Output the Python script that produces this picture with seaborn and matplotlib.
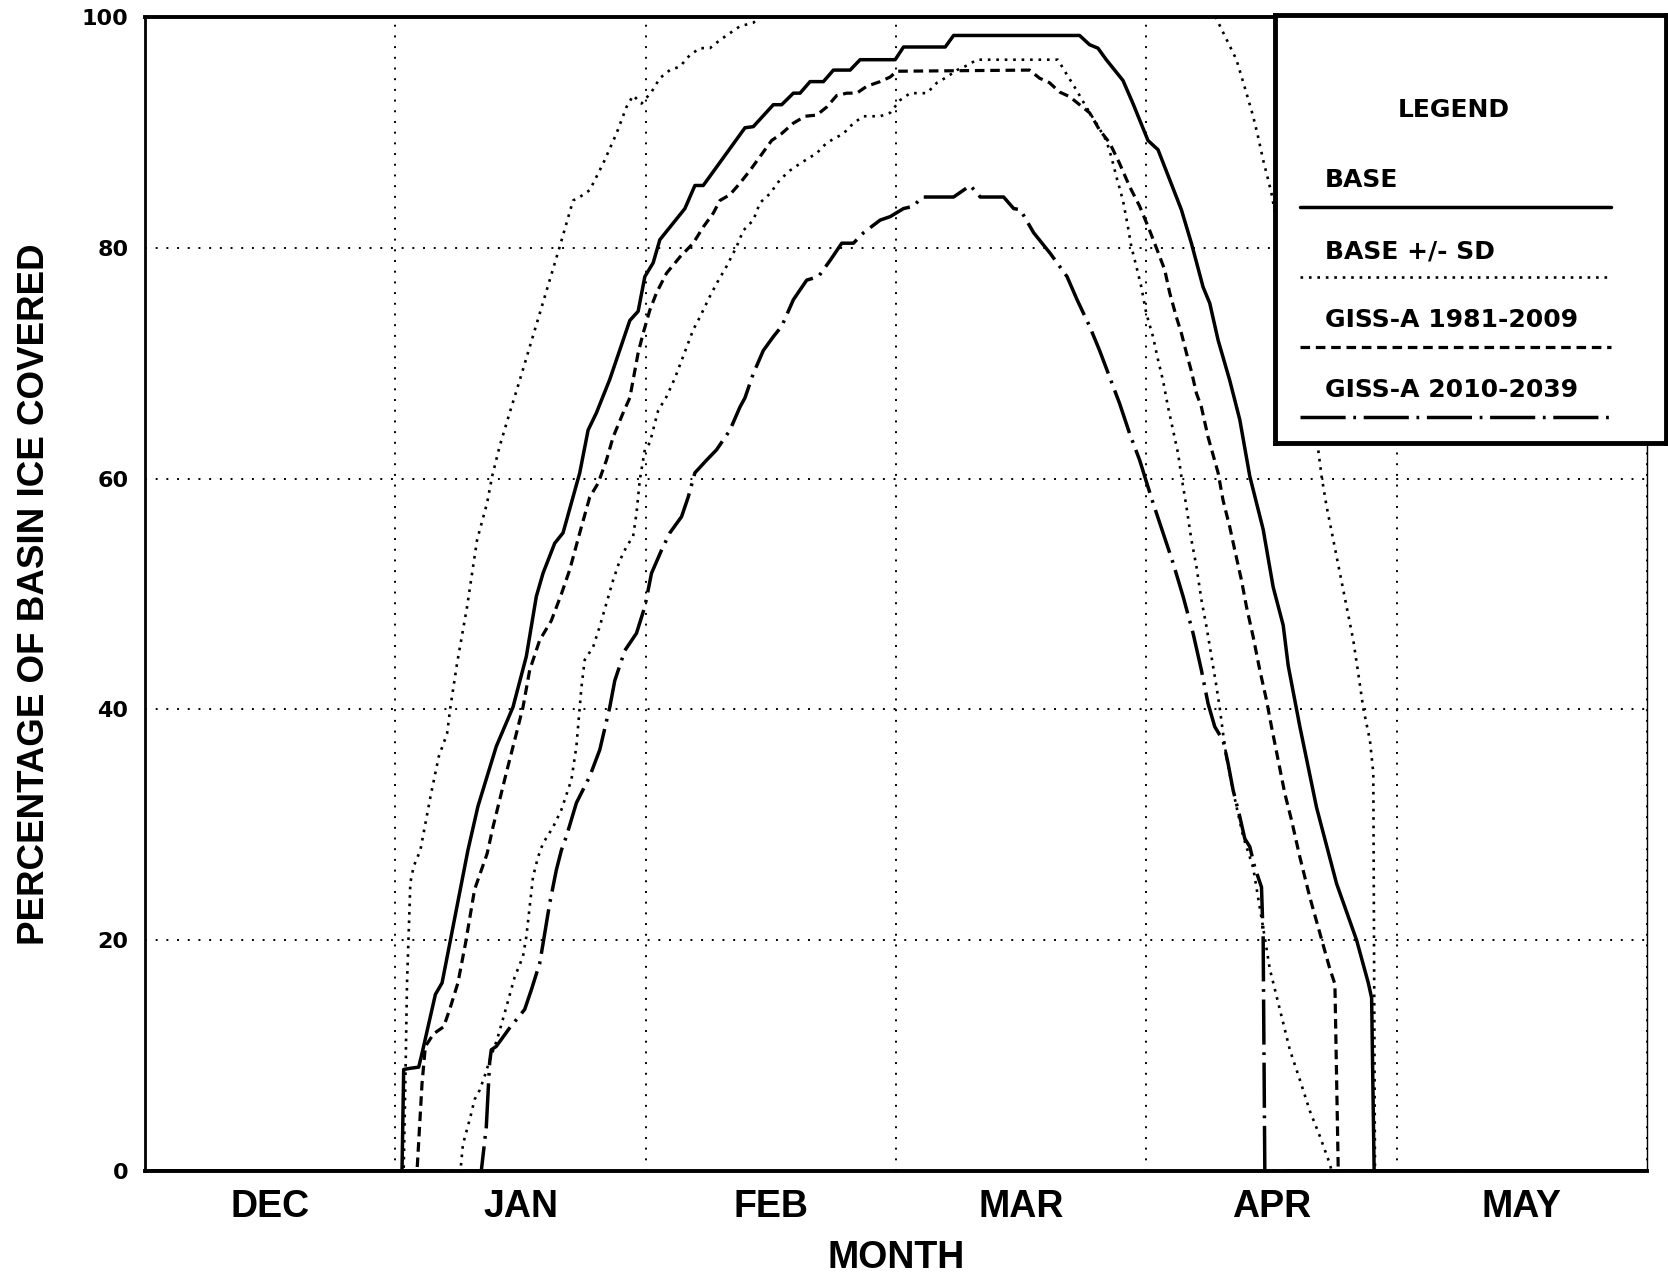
import matplotlib
matplotlib.use('Agg')
import matplotlib.pyplot as plt
import seaborn as sns

# ===============================
# Data: x = days from 1 Dec (axis uses 30 days per month)
# ===============================
months = ['DEC', 'JAN', 'FEB', 'MAR', 'APR', 'MAY']
month_edges = [0, 30, 60, 90, 120, 150, 180]
month_mids = [15, 45, 75, 105, 135, 165]
y_ticks = [0, 20, 40, 60, 80, 100]

base_day = [0, 30.8, 31.0, 31.8, 32.8, 33.2, 34.8, 35.6, 36.6, 38.7, 39.9, 42.1, 44.1, 45.7, 46.9,
            47.7, 49.1, 50.1, 52.1, 53.1, 54.1, 55.7, 58.1, 59.1, 59.9, 60.9, 61.7, 64.7, 65.9, 66.9,
            71.9, 72.9, 75.3, 76.3, 77.7, 78.5, 79.7, 81.3, 82.5, 84.5, 85.7, 89.9, 90.9, 95.9, 96.9,
            112.0, 113.2, 114.2, 115.2, 117.2, 118.4, 120.2, 121.4, 122.8, 124.2, 125.4, 126.8, 127.6,
            128.6, 130.0, 131.2, 132.4, 134.0, 135.2, 136.4, 137.0, 138.4, 140.4, 142.8, 145.2, 146.6,
            147.0, 147.3, 180]
base_pct = [0, 0, 8.8, 8.9, 9.0, 10.2, 15.3, 16.3, 20.0, 27.8, 31.6, 36.8, 40.2, 44.6, 49.8,
            51.8, 54.4, 55.3, 60.5, 64.2, 65.7, 68.6, 73.7, 74.5, 77.5, 78.7, 80.7, 83.4, 85.4, 85.4,
            90.4, 90.5, 92.4, 92.4, 93.4, 93.4, 94.4, 94.4, 95.4, 95.4, 96.3, 96.3, 97.4, 97.4, 98.4,
            98.4, 97.6, 97.3, 96.3, 94.5, 92.5, 89.3, 88.5, 85.9, 83.3, 80.4, 76.6, 75.2,
            72.0, 68.5, 65.1, 60.2, 55.6, 50.6, 47.3, 43.8, 38.5, 31.5, 24.9, 20.0, 16.3,
            15.0, 0, 0]

sd_up_day = [0, 31.0, 31.2, 31.4, 31.6, 31.8, 32.2, 33.0, 34.2, 35.2,
             36.2, 36.6, 37.4, 38.6, 39.8, 41.0, 41.6, 42.5, 43.7, 44.9,
             49.7, 51.3, 52.1, 53.3, 54.9, 56.5, 57.7, 58.5, 59.5, 60.7,
             61.7, 62.9, 64.1, 65.3, 66.5, 67.7, 68.9, 70.1, 71.3, 72.9,
             73.7, 128.3, 130.8, 132.0, 132.8, 133.4, 134.0, 134.6, 135.0, 140.6,
             141.0, 141.6, 142.4, 143.2, 144.0, 144.8, 145.4, 146.0, 146.8, 147.2,
             147.4, 180]
sd_up_pct = [0, 0, 7.6, 16.3, 20.6, 25.0, 26.4, 27.8, 32.4, 35.9,
             37.9, 40.2, 44.0, 48.9, 54.7, 57.9, 60.2, 62.8, 65.7, 68.5,
             80.1, 84.1, 84.4, 85.0, 87.3, 89.9, 92.2, 93.2, 92.5, 93.5,
             94.7, 95.4, 95.7, 96.7, 97.3, 97.3, 98.0, 98.6, 99.2, 99.5,
             100, 100, 96.3, 93.4, 91.4, 89.6, 87.6, 85.9, 84.7, 62.5,
             60.2, 57.6, 54.7, 51.8, 48.9, 46.0, 43.1, 40.1, 37.3, 34.5,
             0, 0]

sd_lo_day = [0, 37.8, 38.1, 39.0, 39.5, 40.1, 40.7, 41.3, 42.2, 43.3,
             44.3, 45.3, 45.7, 46.1, 46.5, 47.1, 47.7, 48.9, 49.9, 51.1,
             51.7, 52.1, 52.3, 52.7, 53.7, 54.5, 55.3, 56.1, 56.9, 57.7,
             58.5, 58.9, 59.3, 59.9, 60.5, 61.1, 61.5, 62.5, 63.5, 64.5,
             65.7, 66.5, 67.7, 68.5, 69.7, 70.9, 71.7, 72.9, 73.7, 74.9,
             76.1, 77.3, 78.5, 80.5, 81.7, 83.7, 84.9, 86.1, 88.1, 89.3,
             90.5, 91.7, 93.7, 94.9, 96.1, 97.3, 98.5, 99.7, 109.4, 110.4,
             111.6, 112.8, 114.0, 115.2, 115.8, 116.4, 117.2, 117.8, 118.2, 118.8,
             119.4, 120.0, 120.8, 121.4, 122.0, 122.6, 123.2, 123.8, 124.2, 124.8,
             125.4, 126.0, 126.6, 127.2, 127.8, 128.4, 128.8, 129.2, 129.6, 130.2,
             130.8, 131.6, 132.8, 133.6, 134.2, 134.8, 136.0, 137.2, 138.4, 139.6,
             140.8, 142.0, 142.2, 180]
sd_lo_pct = [0, 0, 2.3, 4.7, 6.2, 7.0, 8.2, 9.6, 11.4, 14.2,
             16.8, 18.6, 20.3, 22.9, 25.5, 27.2, 28.4, 29.8, 31.3, 33.9,
             36.8, 40.2, 41.9, 44.3, 45.4, 47.2, 49.2, 51.2, 52.9, 54.1,
             55.0, 57.0, 59.9, 62.5, 63.1, 64.8, 65.9, 67.1, 68.7, 70.6,
             72.9, 74.0, 75.8, 76.9, 78.4, 80.1, 81.5, 82.4, 83.9, 84.7,
             85.9, 86.7, 87.3, 88.2, 89.1, 89.9, 90.8, 91.4, 91.4, 91.7,
             92.8, 93.4, 93.4, 94.3, 94.8, 95.4, 95.8, 96.3, 96.3, 95.1,
             93.7, 92.2, 90.8, 89.3, 87.9, 86.2, 84.1, 81.8, 80.1, 78.4,
             76.6, 74.3, 72.3, 70.3, 68.5, 66.2, 64.2, 62.2, 60.2, 57.6,
             54.7, 52.4, 49.5, 47.2, 44.6, 42.0, 40.1, 37.9, 35.9, 33.6,
             31.6, 29.0, 26.3, 22.8, 20.2, 17.5, 14.0, 10.5, 7.9, 5.2,
             3.0, 0.6, 0, 0]

giss1_day = [0, 32.6, 33.2, 33.6, 34.6, 35.8, 36.6, 37.5, 38.4, 39.5,
             41.0, 41.7, 43.3, 44.5, 45.3, 46.1, 47.3, 48.7, 49.9, 50.9,
             52.1, 53.3, 54.3, 55.3, 56.1, 57.3, 58.1, 59.1, 59.7, 60.5,
             61.3, 62.5, 64.1, 65.7, 66.9, 68.1, 68.9, 70.1, 71.3, 72.5,
             73.7, 75.1, 76.3, 77.7, 79.1, 80.5, 81.7, 82.9, 84.1, 85.3,
             86.5, 88.1, 89.3, 90.1, 106.0, 107.2, 108.4, 109.6, 110.8, 112.0,
             113.2, 114.4, 115.6, 116.8, 118.0, 119.2, 120.4, 121.2, 122.2, 122.8,
             123.6, 124.2, 124.8, 125.4, 126.0, 126.6, 127.4, 128.6, 129.2, 130.0,
             130.6, 131.4, 132.0, 132.8, 133.6, 134.4, 135.0, 135.8, 136.6, 137.4,
             138.4, 139.6, 140.8, 142.0, 142.6, 143.0, 180]
giss1_pct = [0, 0, 7.6, 10.8, 11.9, 12.5, 14.2, 16.3, 19.7, 24.4,
             27.5, 29.8, 34.5, 37.9, 40.2, 43.4, 46.0, 47.7, 50.0, 52.1,
             55.3, 58.4, 59.6, 61.6, 63.6, 65.7, 67.0, 70.9, 72.6, 74.6,
             76.1, 77.8, 79.2, 80.4, 81.8, 83.0, 84.1, 84.6, 85.6, 86.7,
             87.9, 89.3, 89.9, 90.8, 91.4, 91.5, 92.2, 93.2, 93.4, 93.4,
             94.0, 94.4, 94.8, 95.3, 95.4, 94.7, 94.3, 93.5, 93.1, 92.4,
             91.7, 90.2, 89.1, 87.3, 85.3, 83.6, 81.5, 80.0, 78.1, 76.1,
             74.0, 72.6, 70.9, 69.3, 67.4, 66.2, 63.6, 60.5, 58.1, 55.8,
             53.8, 51.2, 48.9, 46.3, 43.4, 40.8, 38.5, 35.6, 32.7, 30.4,
             27.2, 23.7, 20.6, 17.5, 16.2, 0, 0]

giss2_day = [0, 40.3, 40.9, 41.3, 41.5, 42.1, 43.7, 45.5, 46.3, 47.3,
             47.7, 48.5, 49.3, 49.9, 50.5, 51.7, 53.3, 54.5, 55.7, 56.3,
             57.5, 58.9, 59.9, 60.7, 61.9, 62.9, 64.3, 65.1, 65.9, 67.3,
             68.5, 70.1, 71.3, 71.9, 72.9, 74.1, 75.3, 76.3, 77.7, 79.3,
             80.7, 82.1, 83.5, 84.9, 86.1, 88.1, 89.3, 90.9, 92.1, 93.1,
             96.9, 98.9, 100.1, 102.9, 104.1, 104.9, 106.5, 108.5, 110.5, 111.7,
             113.2, 114.4, 115.6, 116.8, 118.0, 119.2, 119.8, 120.8, 122.0, 123.2,
             124.4, 125.6, 126.6, 127.4, 128.2, 129.2, 129.8, 130.4, 131.2, 131.8,
             132.4, 133.0, 133.8, 134.0, 134.2, 180]
giss2_pct = [0, 0, 3.8, 9.4, 10.5, 10.8, 12.4, 14.0, 15.7, 18.0,
             19.7, 23.2, 26.1, 27.8, 29.0, 31.9, 34.2, 36.5, 40.2, 42.5,
             45.1, 46.6, 48.9, 51.8, 53.8, 55.3, 56.7, 58.4, 60.5, 61.6,
             62.5, 64.2, 66.2, 67.0, 69.1, 71.1, 72.3, 73.2, 75.5, 77.2,
             77.5, 78.9, 80.4, 80.4, 81.3, 82.4, 82.7, 83.4, 83.6, 84.4,
             84.4, 85.4, 84.4, 84.4, 83.4, 83.3, 81.3, 79.5, 77.5, 75.5,
             73.2, 71.1, 68.8, 66.5, 63.9, 61.6, 60.2, 57.9, 55.3, 52.7,
             49.8, 46.6, 43.4, 40.5, 38.5, 37.3, 35.3, 33.0, 30.7, 28.8,
             28.1, 26.3, 24.6, 20.2, 0, 0]

# ===============================
# Line styles
# ===============================
styles = {
    'BASE': dict(linestyle='-', linewidth=2.5),
    'BASE +/- SD': dict(linestyle=(0, (1, 2.2)), linewidth=1.9),
    'GISS-A 1981-2009': dict(linestyle=(0, (3.0, 1.8)), linewidth=2.3),
    'GISS-A 2010-2039': dict(linestyle=(0, (13, 2.2, 0.8, 2.2)), linewidth=2.5),
}

series = [
    ('BASE +/- SD', sd_up_day, sd_up_pct),
    ('BASE +/- SD', sd_lo_day, sd_lo_pct),
    ('GISS-A 2010-2039', giss2_day, giss2_pct),
    ('GISS-A 1981-2009', giss1_day, giss1_pct),
    ('BASE', base_day, base_pct),
]

sns.set_style('white')
plt.rcParams['font.family'] = ['DejaVu Sans']
plt.rcParams['text.color'] = 'black'
plt.rcParams['axes.labelcolor'] = 'black'
plt.rcParams['xtick.color'] = 'black'
plt.rcParams['ytick.color'] = 'black'

W, H = 1668, 1277
fig = plt.figure(figsize=(W / 100, H / 100), dpi=100)
ax = fig.add_axes([145 / W, 1 - 1171 / H, 1502 / W, 1154 / H])

for name, d, p in series:
    sns.lineplot(x=d, y=p, ax=ax, color='black', sort=False, estimator=None,
                 **styles[name])

ax.set_xlim(0, 180)
ax.set_ylim(0, 100)

# grid
ax.set_xticks(month_edges, labels=[''] * len(month_edges))
ax.set_xticks(month_mids, labels=months, minor=True)
ax.set_yticks(y_ticks)
ax.grid(True, which='major', color='black', linestyle=(0, (1, 4.5)), linewidth=1.4)
ax.set_axisbelow(True)

ax.tick_params(axis='both', which='major', direction='out', length=9, width=1.6,
               color='black', labelcolor='black')
ax.tick_params(axis='x', which='minor', length=0, pad=13, labelcolor='black')
ax.tick_params(axis='y', which='major', pad=3)
for lab in ax.get_xticklabels(minor=True):
    lab.set_fontsize(27)
    lab.set_fontweight('bold')
    lab.set_family(['Liberation Sans', 'DejaVu Sans'])
for lab in ax.get_yticklabels():
    lab.set_fontsize(16)
    lab.set_fontweight('bold')

ax.set_xlabel('MONTH', fontsize=27, fontweight='bold', color='black',
              family=['Liberation Sans', 'DejaVu Sans'])
ax.xaxis.set_label_coords(0.5, -(1258 - 1171) / 1154)
ax.xaxis.label.set_verticalalignment('center')
ax.set_ylabel('PERCENTAGE OF BASIN ICE COVERED', fontsize=26.5, fontweight='bold',
              color='black', family=['Liberation Sans', 'DejaVu Sans'])
ax.yaxis.set_label_coords((35 - 145) / 1502, 0.5)
ax.yaxis.label.set_verticalalignment('center')

for side, lw in [('left', 2.0), ('bottom', 2.8), ('top', 2.8), ('right', 1.0)]:
    ax.spines[side].set_visible(True)
    ax.spines[side].set_linewidth(lw)
    ax.spines[side].set_color('black')

# ===============================
# Legend box (text above each sample line)
# ===============================
lax = fig.add_axes([1275 / W, 1 - 443 / H, 391 / W, 428 / H])
lax.set_xlim(0, 1)
lax.set_ylim(0, 1)
lax.set_xticks([])
lax.set_yticks([])
lax.set_facecolor('white')
for s in lax.spines.values():
    s.set_visible(True)
    s.set_linewidth(3.5)
    s.set_color('black')

lax.text(0.456, 0.762, 'LEGEND', ha='center', va='baseline', fontsize=18,
         fontweight='bold', color='black')
text_y = [0.598, 0.432, 0.271, 0.107]
line_y = [0.551, 0.388, 0.224, 0.061]
for (name, st), ty, ly in zip(styles.items(), text_y, line_y):
    lax.text(0.128, ty, name, ha='left', va='baseline', fontsize=18,
             fontweight='bold', color='black')
    lax.plot([0.064, 0.859], [ly, ly], color='black', **st)

fig.savefig('out.png', dpi=100, facecolor='white')
plt.close(fig)
